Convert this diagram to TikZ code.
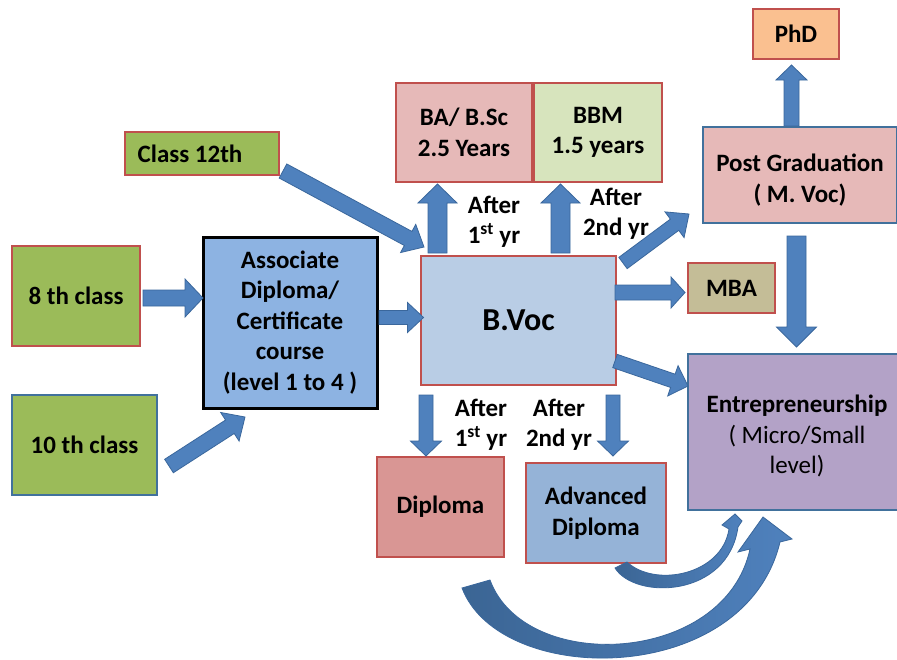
\documentclass[tikz,border=0pt]{standalone}
\usepackage{fontspec}
\setmainfont{Carlito}
\usetikzlibrary{calc}
\definecolor{grn}{HTML}{9BBB59}
\definecolor{redb}{HTML}{C0504D}
\definecolor{blueb}{HTML}{41719C}
\definecolor{arrf}{HTML}{4F81BD}
\definecolor{arrd}{HTML}{3B6594}
\definecolor{arrb}{HTML}{3A679C}
\definecolor{pinkf}{HTML}{E6B9B8}
\definecolor{lgrn}{HTML}{D7E4BD}
\definecolor{orng}{HTML}{FAC090}
\definecolor{khaki}{HTML}{C4BD97}
\definecolor{purp}{HTML}{B3A2C7}
\definecolor{dipf}{HTML}{D99694}
\definecolor{advf}{HTML}{95B3D7}
\definecolor{assf}{HTML}{8DB3E2}
\definecolor{bvf}{HTML}{B9CDE5}
\newcommand\blockarr[5]{%
  \coordinate (bah) at ($(#2)!#5!(#1)$);
  \draw[arrowsty] ($(#1)!#3!90:(#2)$) -- ($(bah)!#3!90:(#2)$) -- ($(bah)!#4!90:(#2)$) -- (#2)
    -- ($(bah)!#4!-90:(#2)$) -- ($(bah)!#3!-90:(#2)$) -- ($(#1)!#3!-90:(#2)$) -- cycle;
}
\tikzset{
  box/.style={draw=redb, line width=2.5pt, outer sep=0pt, inner sep=2pt, align=center,
    font=\bfseries\fontsize{25}{30.5}\selectfont},
  bluebox/.style={box, draw=blueb},
  arrowsty/.style={fill=arrf, draw=arrb, line width=0.8pt, line join=miter},
  curvesty/.style={left color=arrd, right color=arrf, draw=arrb, line width=0.8pt},
  lbl/.style={align=center, inner sep=0pt, font=\bfseries\fontsize{25}{30.5}\selectfont}
}
\begin{document}
\begin{tikzpicture}[x=1pt,y=-1pt]
\useasboundingbox (0,0) rectangle (897,659);
\fill[white] (0,0) rectangle (897,659);
\clip (0,0) rectangle (897,659);

% boxes
\node[box, fill=grn, minimum width=154pt, minimum height=43pt] (c12) at (202,153.5) {Class 12th\hspace*{24pt}};
\node[box, fill=grn, minimum width=128pt, minimum height=100pt] (c8) at (76,296) {8 th class};
\node[bluebox, fill=grn, minimum width=145pt, minimum height=100pt] (c10) at (84.5,445) {10 th class};
\node[box, draw=black, line width=3pt, fill=assf, minimum width=174pt, minimum height=171pt] (assoc) at (290,322.5)
  {Associate\\Diploma/\\Certificate\\course\\(level 1 to 4 )};
\node[box, fill=bvf, minimum width=195pt, minimum height=129pt, font=\bfseries\fontsize{32}{38}\selectfont] (bvoc) at (518.5,320.5) {B.Voc};
\node[box, fill=pinkf, minimum width=136pt, minimum height=99pt] (ba) at (464,132.5) {BA/ B.Sc\\2.5 Years};
\node[box, fill=lgrn, minimum width=128pt, minimum height=99pt] (bbm) at (598,132.5) {BBM\\1.5 years};
\node[box, fill=orng, minimum width=86pt, minimum height=50pt] (phd) at (796,34) {PhD};
\node[bluebox, fill=pinkf, minimum width=194pt, minimum height=96pt] (pg) at (800,175) {\rule{0pt}{28pt}Post Graduation\\( M. Voc)};
\node[box, fill=khaki, minimum width=87pt, minimum height=50pt] (mba) at (731.5,288) {MBA};
\node[bluebox, fill=purp, minimum width=218pt, minimum height=156pt] (entre) at (797,432)
  {\rule{0pt}{26pt}Entrepreneurship\\{\mdseries ( Micro/Small}\\{\mdseries level)}};
\node[box, fill=dipf, minimum width=127pt, minimum height=100pt] (dip) at (440.5,507) {Diploma};
\node[box, fill=advf, minimum width=140pt, minimum height=100pt] (adv) at (596,513) {Advanced\\Diploma};

% labels
\node[lbl] (l1) at (494,222) {After\\1\textsuperscript{st} yr};
\node[lbl] (l2) at (616,214) {After\\2nd yr};
\node[lbl] (l3) at (481,425) {After\\1\textsuperscript{st} yr};
\node[lbl] (l4) at (559,425) {After\\2nd yr};

% straight block arrows
\coordinate (s1) at ($(c8.east)+(3,2)$);        \coordinate (e1) at ($(assoc.west)+(0,-24.5)$);
\coordinate (s2) at ($(assoc.east)+(2,-5)$);    \coordinate (e2) at ($(bvoc.west)+(2.5,-3)$);
\coordinate (s3) at ($(c10.east)+(12,21)$);     \coordinate (e3) at ($(assoc.south)+(-45,9)$);
\coordinate (s4) at ($(c12.east)+(4,17.5)$);    \coordinate (e4) at ($(bvoc.north west)+(3,-9)$);
\coordinate (s5) at ($(bvoc.north west)+(16.5,-3)$);  \coordinate (e5) at ($(ba.south west)+(41.5,2)$);
\coordinate (s6) at ($(bvoc.north west)+(139.5,-3)$); \coordinate (e6) at ($(bbm.south west)+(26.5,2)$);
\coordinate (s7) at ($(bvoc.north east)+(7,7)$);      \coordinate (e7) at ($(pg.south west)+(-14,-9)$);
\coordinate (s8) at ($(bvoc.east)+(-1,-28)$);         \coordinate (e8) at ($(mba.west)+(-3,4.5)$);
\coordinate (s9) at ($(bvoc.south east)+(-1,-24)$);   \coordinate (e9) at ($(entre.north west)+(0,32)$);
\coordinate (s10) at ($(pg.north)+(-8.5,-1)$);        \coordinate (e10) at ($(phd.south)+(-4.5,6)$);
\coordinate (s11) at ($(pg.south)+(-3.5,13)$);        \coordinate (e11) at ($(entre.north)+(-0.5,-7)$);
\coordinate (s12) at ($(bvoc.south west)+(5,10)$);    \coordinate (e12) at ($(dip.north)+(-14.5,-1)$);
\coordinate (s13) at ($(bvoc.south east)+(-3,10)$);   \coordinate (e13) at ($(adv.north)+(17,-7)$);

\blockarr{s1}{e1}{8pt}{19pt}{18pt}
\blockarr{s2}{e2}{7pt}{15pt}{16pt}
\blockarr{s3}{e3}{8pt}{17pt}{18pt}
\blockarr{s4}{e4}{8pt}{16pt}{18pt}
\blockarr{s5}{e5}{9.5pt}{19.5pt}{19pt}
\blockarr{s6}{e6}{9.5pt}{19.5pt}{19pt}
\blockarr{s7}{e7}{7pt}{16pt}{18pt}
\blockarr{s8}{e8}{7.5pt}{15.5pt}{14pt}
\blockarr{s9}{e9}{7pt}{16pt}{16pt}
\blockarr{s10}{e10}{7.5pt}{15.5pt}{15pt}
\blockarr{s11}{e11}{9.5pt}{20pt}{20pt}
\blockarr{s12}{e12}{7pt}{15.5pt}{15pt}
\blockarr{s13}{e13}{7pt}{15.5pt}{15pt}

% curved arrows
\coordinate (esw) at (entre.south west);
\coordinate (asou) at (adv.south);
\coordinate (dsou) at (dip.south);
\draw[curvesty] ($(asou)+(19,5)$) .. controls (635,600) and (728,598) .. ($(esw)+(50,17)$)
  -- ($(esw)+(54,11)$) -- ($(esw)+(47,4)$) -- ($(esw)+(34,15)$) -- ($(esw)+(41,19)$)
  .. controls (722,575) and (655,588) .. ($(asou)+(31,-1)$) -- cycle;
\draw[curvesty] ($(dsou)+(21.5,31)$) .. controls (500,688) and (745,688) .. ($(esw)+(92,32)$)
  -- ($(esw)+(104,29)$) -- ($(esw)+(75,7)$) -- ($(esw)+(50,42)$) -- ($(esw)+(62,39)$)
  .. controls (725,665) and (525,675) .. ($(dsou)+(49.5,23)$) -- cycle;
\end{tikzpicture}
\end{document}
